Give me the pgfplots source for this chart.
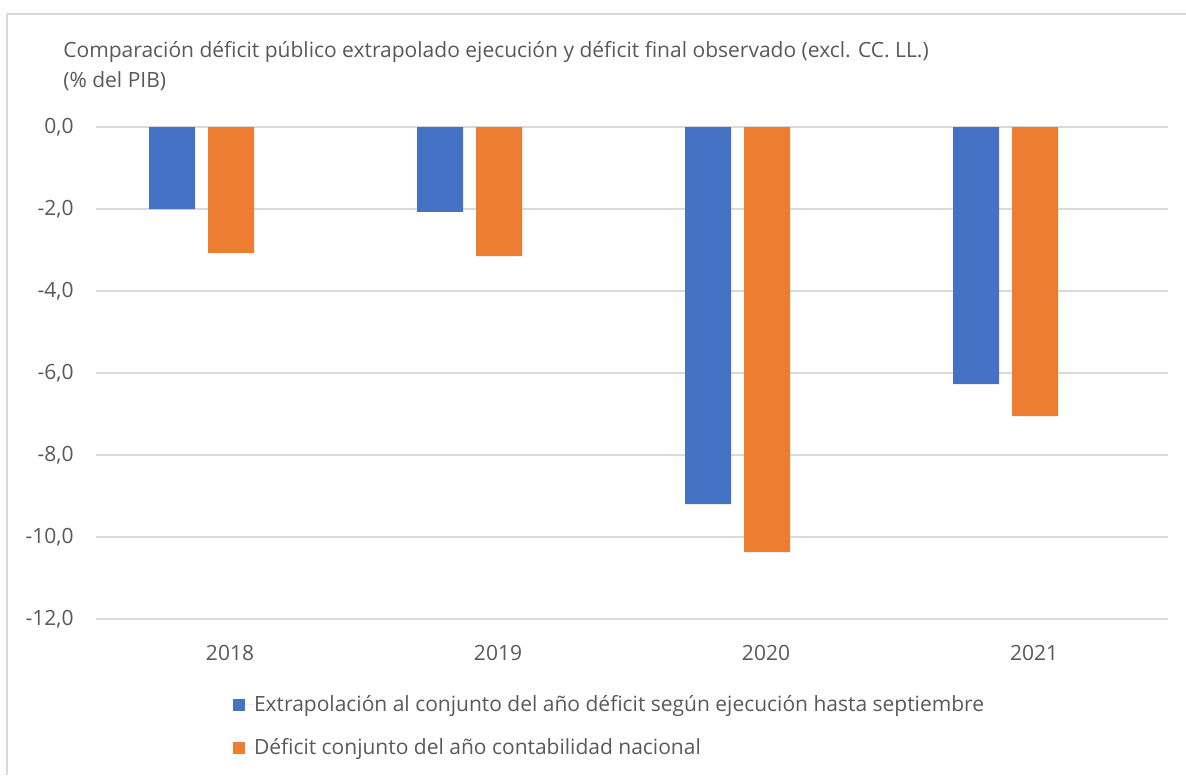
\documentclass[border=0pt]{standalone}
\usepackage{fontspec}
\setmainfont{Open Sans}
\usepackage{pgfplots}
\pgfplotsset{compat=1.18}
\definecolor{xblue}{HTML}{4472C4}
\definecolor{xorange}{HTML}{ED7D31}
\definecolor{txtgray}{HTML}{595959}
\definecolor{gridgray}{HTML}{D9D9D9}
\newcommand{\cf}{\fontsize{10.5pt}{12pt}\selectfont}
\begin{document}
\cf
\begin{tikzpicture}
\path[use as bounding box] (0pt,0pt) rectangle (593pt,-387.5pt);
\draw[gridgray, line width=0.9pt] (3.5pt,-387.5pt) -- (3.5pt,-7pt) -- (593pt,-7pt);
\node[anchor=base west, inner sep=0pt, text=txtgray, font=\cf] at (31.5pt,-29pt) {Comparación déficit público extrapolado ejecución y déficit final observado (excl. CC. LL.)};
\node[anchor=base west, inner sep=0pt, text=txtgray, font=\cf] at (31.5pt,-44pt) {(\% del PIB)};
\begin{axis}[
  at={(48pt,-63.5pt)}, anchor=north west,
  scale only axis, width=536pt, height=246pt,
  xmin=-0.5, xmax=3.5, ymin=-12, ymax=0,
  ytick={-12,-10,-8,-6,-4,-2,0},
  xtick={0,1,2,3}, xticklabels={2018,2019,2020,2021},
  axis line style={draw=none},
  major tick length=0pt,
  ymajorgrids,
  grid style={draw=gridgray, line width=0.75pt},
  /pgf/number format/assume math mode=true,
  /pgf/number format/.cd, use comma, fixed, fixed zerofill, precision=1,
  /pgfplots/.cd,
  ticklabel style={text=txtgray, font=\cf},
  yticklabel style={anchor=east, inner sep=0pt, xshift=-11pt},
  xticklabel style={anchor=north, inner sep=0pt, yshift=-13pt},
  legend style={at={(0.1278,-0.155)}, anchor=north west, draw=none, fill=none,
    inner sep=0pt, outer sep=0pt, row sep=12pt,
    nodes={inner sep=0pt, text=txtgray, font=\cf}},
  legend cell align=left,
]
\addplot[ybar, bar width=23pt, bar shift=-29pt, fill=xblue, draw=none,
  legend image code/.code={\fill[xblue] (0pt,-3pt) rectangle (6pt,3pt); \path (0pt,0pt) -- (10.5pt,0pt);}]
  coordinates {(0,-2.0) (1,-2.07) (2,-9.2) (3,-6.27)};
\addlegendentry{Extrapolación al conjunto del año déficit según ejecución hasta septiembre}
\addplot[ybar, bar width=23pt, bar shift=0.5pt, fill=xorange, draw=none,
  legend image code/.code={\fill[xorange] (0pt,-3pt) rectangle (6pt,3pt); \path (0pt,0pt) -- (10.5pt,0pt);}]
  coordinates {(0,-3.07) (1,-3.15) (2,-10.37) (3,-7.05)};
\addlegendentry{Déficit conjunto del año contabilidad nacional}
\end{axis}
\end{tikzpicture}
\end{document}
